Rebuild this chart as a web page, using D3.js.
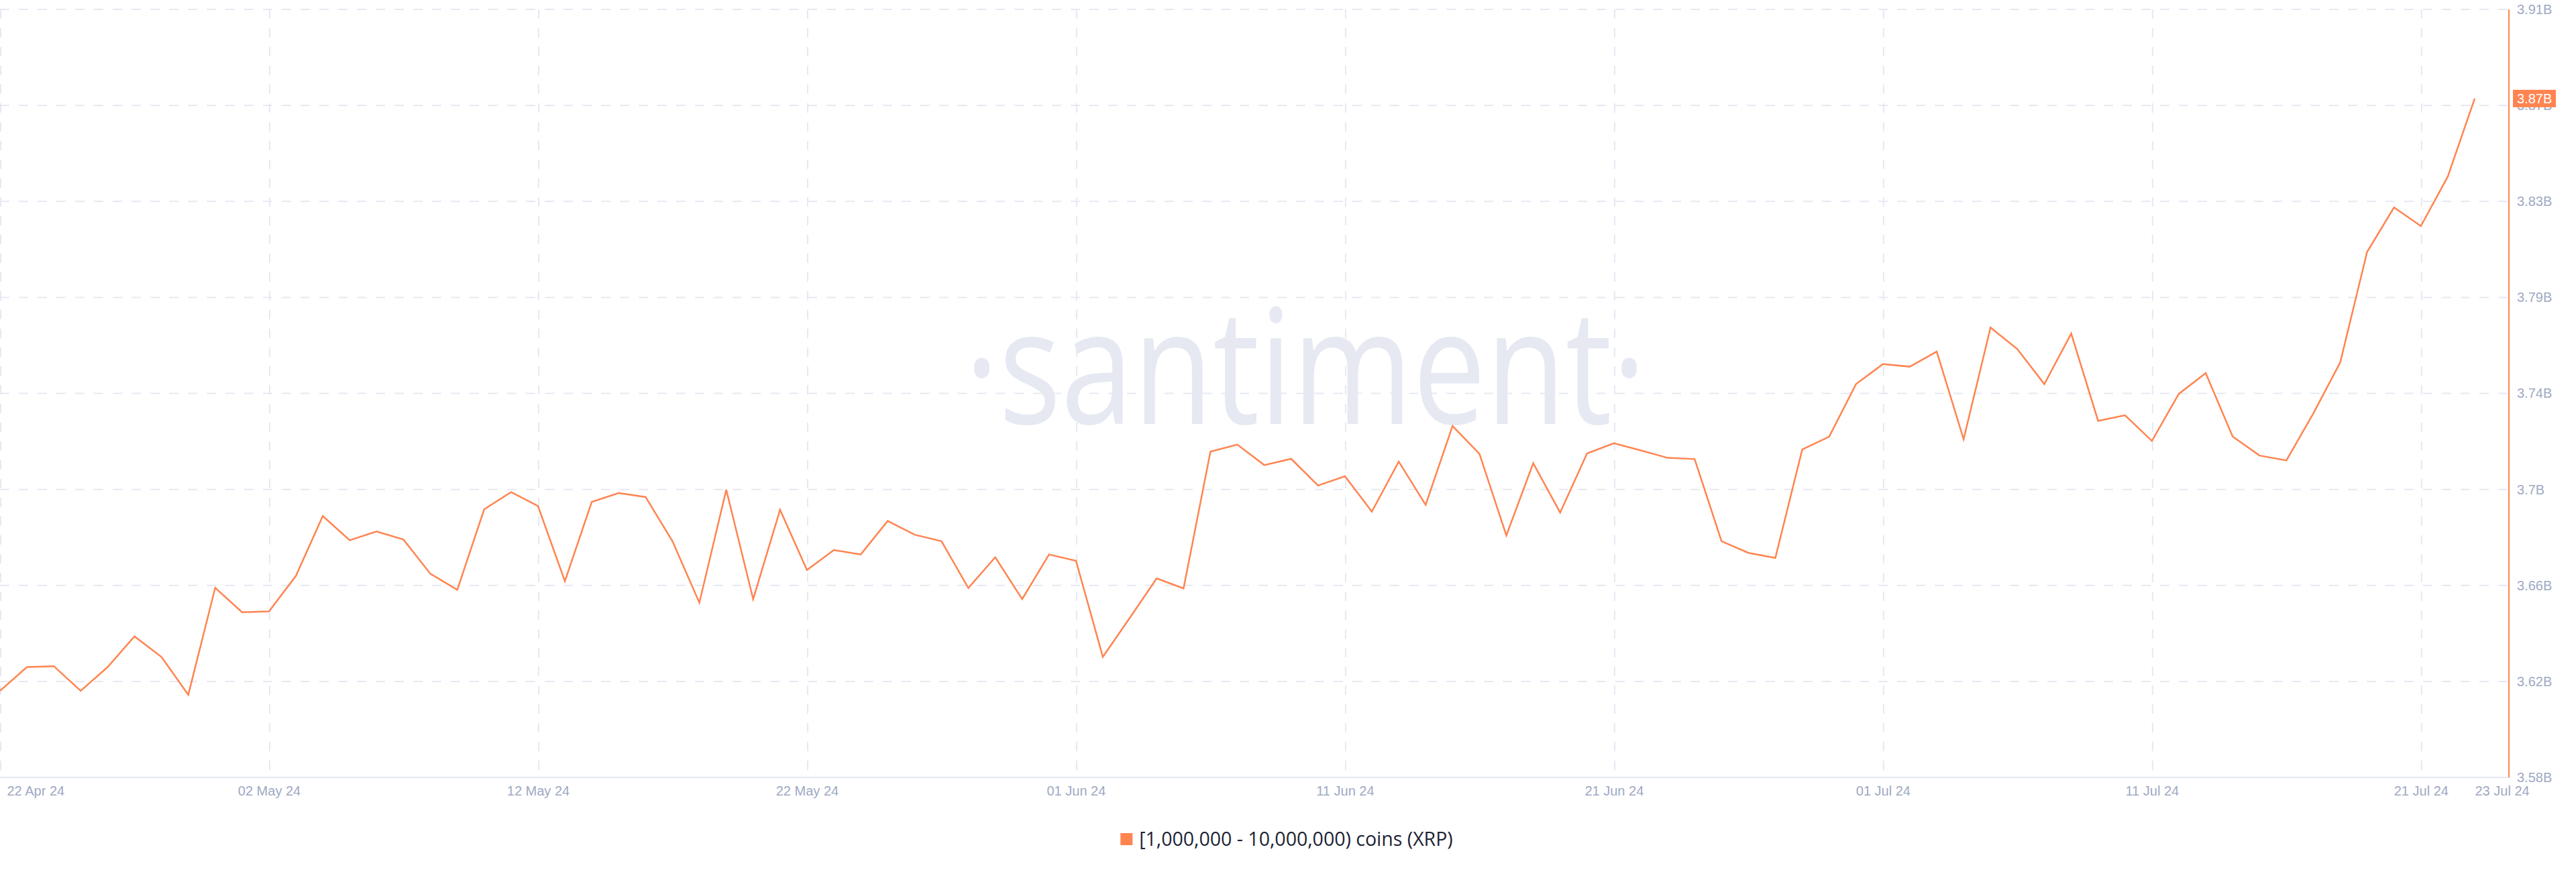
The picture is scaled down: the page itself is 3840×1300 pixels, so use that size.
<!DOCTYPE html>
<html>
<head>
<meta charset="utf-8">
<script src="https://cdn.jsdelivr.net/npm/d3@7"></script>
<style>
  body { margin: 0; background: #ffffff; }
  svg { display: block; }
</style>
</head>
<body>
<svg id="chart" width="3840" height="1300"></svg>
<script>
// ---------------- data ----------------
const startDate = "2024-04-22";
const endDate = "2024-07-23";
// Supply held by addresses with [1M - 10M) XRP, in billions, one value per day
const holdings = [
  3.6172, 3.6274, 3.6278, 3.6172, 3.6274, 3.6406, 3.6318, 3.6155, 3.6615, 3.6510,
  3.6513, 3.6666, 3.6923, 3.6819, 3.6857, 3.6822, 3.6675, 3.6606, 3.6952, 3.7026,
  3.6966, 3.6643, 3.6984, 3.7022, 3.7005, 3.6815, 3.6551, 3.7036, 3.6566, 3.6950,
  3.6691, 3.6777, 3.6758, 3.6902, 3.6843, 3.6815, 3.6614, 3.6746, 3.6566, 3.6758,
  3.6731, 3.6318, 3.6485, 3.6655, 3.6612, 3.7200, 3.7230, 3.7142, 3.7169, 3.7054,
  3.7094, 3.6942, 3.7157, 3.6971, 3.7310, 3.7190, 3.6840, 3.7150, 3.6938, 3.7192,
  3.7236, 3.7205, 3.7173, 3.7168, 3.6815, 3.6765, 3.6743, 3.7209, 3.7264, 3.7490,
  3.7576, 3.7565, 3.7630, 3.7253, 3.7733, 3.7640, 3.7490, 3.7707, 3.7332, 3.7356,
  3.7246, 3.7448, 3.7537, 3.7265, 3.7183, 3.7162, 3.7364, 3.7583, 3.8058, 3.8249,
  3.8169, 3.8382, 3.8717
];
const xTickDates = ["2024-04-22","2024-05-02","2024-05-12","2024-05-22","2024-06-01",
                    "2024-06-11","2024-06-21","2024-07-01","2024-07-11","2024-07-21","2024-07-23"];
const xTickLabels = ["22 Apr 24","02 May 24","12 May 24","22 May 24","01 Jun 24",
                     "11 Jun 24","21 Jun 24","01 Jul 24","11 Jul 24","21 Jul 24","23 Jul 24"];
const yDomain = [3.58, 3.91];
const yTickLabels = ["3.58B","3.62B","3.66B","3.7B","3.74B","3.79B","3.83B","3.87B","3.91B"];
const lastValueLabel = "3.87B";
const seriesName = "[1,000,000 - 10,000,000) coins (XRP)";
const watermarkText = "\u00B7santiment\u00B7";

// ---------------- layout ----------------
const ORANGE = "#ff8450";
const GRID = "#e6e9f2";
const AXISTXT = "#9ea9c3";
const plotLeft = 0, plotRight = 3740, plotTop = 14, plotBottom = 1159;
const dataRight = 3689;

const parse = d3.utcParse("%Y-%m-%d");
const dates = d3.utcDay.range(parse(startDate), d3.utcDay.offset(parse(endDate), 1));
const series = dates.map((d, i) => ({ date: d, value: holdings[i] }));

const x = d3.scaleUtc().domain([parse(startDate), parse(endDate)]).range([plotLeft, dataRight]);
const y = d3.scaleLinear().domain(yDomain).range([plotBottom, plotTop]);
const yTicks = d3.range(yTickLabels.length).map(k => yDomain[0] + k * (yDomain[1] - yDomain[0]) / (yTickLabels.length - 1));
const xTicks = xTickDates.map(parse);

const svg = d3.select("#chart");
svg.append("rect").attr("width", 3840).attr("height", 1300).attr("fill", "#fff");

// watermark
svg.append("text")
  .attr("x", 1438).attr("y", 632)
  .attr("font-family", "'Open Sans', sans-serif")
  .attr("font-size", 238)
  .attr("fill", "#e6e9f2")
  .attr("textLength", 1016)
  .attr("lengthAdjust", "spacingAndGlyphs")
  .text(watermarkText);

// grid
const grid = svg.append("g").attr("stroke", GRID).attr("stroke-width", 2).attr("stroke-dasharray", "14 14");
grid.selectAll("line.h").data(yTicks.slice(1)).join("line")
  .attr("class", "h")
  .attr("x1", plotLeft).attr("x2", plotRight)
  .attr("y1", d => y(d)).attr("y2", d => y(d));
grid.selectAll("line.v").data(xTicks.slice(0, -1)).join("line")
  .attr("class", "v")
  .attr("x1", d => x(d) + 1).attr("x2", d => x(d) + 1)
  .attr("y1", plotTop).attr("y2", plotBottom - 10);

// x axis
const xAxis = d3.axisBottom(x)
  .tickValues(xTicks)
  .tickFormat((d, i) => xTickLabels[i])
  .tickSize(0).tickPadding(13);
const gx = svg.append("g").attr("transform", `translate(0,${plotBottom})`).call(xAxis);
gx.select(".domain").remove();
gx.selectAll("text")
  .attr("font-family", "'Liberation Sans', Arial, sans-serif")
  .attr("font-size", 20)
  .attr("fill", AXISTXT)
  .attr("text-anchor", (d, i) => (i === 0 || i === xTicks.length - 1) ? "start" : "middle")
  .attr("dx", (d, i) => i === 0 ? 10 : 0);
svg.append("line")
  .attr("x1", plotLeft).attr("x2", plotRight)
  .attr("y1", plotBottom).attr("y2", plotBottom)
  .attr("stroke", "#e3e7f0").attr("stroke-width", 2);

// y axis (right)
const yAxis = d3.axisRight(y)
  .tickValues(yTicks)
  .tickFormat((d, i) => yTickLabels[i])
  .tickSize(0).tickPadding(12);
const gy = svg.append("g").attr("transform", `translate(${plotRight},0)`).call(yAxis);
gy.select(".domain").remove();
gy.selectAll("text")
  .attr("font-family", "'Liberation Sans', Arial, sans-serif")
  .attr("font-size", 20)
  .attr("fill", AXISTXT);
svg.append("line")
  .attr("x1", plotRight).attr("x2", plotRight)
  .attr("y1", plotTop).attr("y2", plotBottom)
  .attr("stroke", ORANGE).attr("stroke-width", 2);

// series line
const line = d3.line().x(d => x(d.date)).y(d => y(d.value));
svg.append("path")
  .datum(series)
  .attr("d", line)
  .attr("fill", "none")
  .attr("stroke", ORANGE)
  .attr("stroke-width", 2.5)
  .attr("stroke-linejoin", "miter");

// last value badge
const last = series[series.length - 1];
const badge = svg.append("g").attr("transform", `translate(${plotRight + 6},${y(last.value)})`);
badge.append("rect").attr("x", 0).attr("y", -13).attr("width", 64).attr("height", 26).attr("fill", ORANGE);
badge.append("text")
  .attr("x", 6).attr("y", 0).attr("dy", "0.35em")
  .attr("font-family", "'Liberation Sans', Arial, sans-serif")
  .attr("font-size", 20)
  .attr("fill", "#ffffff")
  .text(lastValueLabel);

// legend
const legend = svg.append("g");
legend.append("rect").attr("x", 0).attr("y", -9).attr("width", 18).attr("height", 18).attr("fill", ORANGE);
legend.append("text")
  .attr("x", 28).attr("y", 0).attr("dy", "0.35em")
  .attr("font-family", "'Open Sans', sans-serif")
  .attr("font-size", 28.5)
  .attr("fill", "#1c2333")
  .text(seriesName);
const bb = legend.node().getBBox();
legend.attr("transform", `translate(${1918 - bb.width / 2},1251)`);
</script>
</body>
</html>
